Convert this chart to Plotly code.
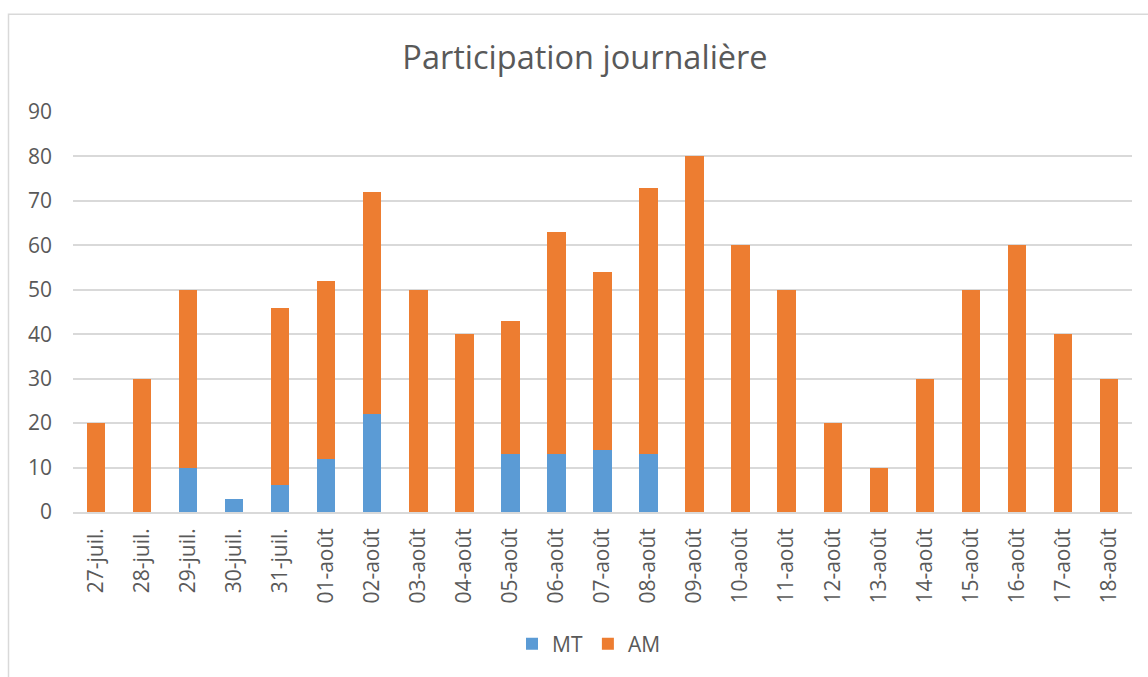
import plotly.graph_objects as go

categories = ["27-juil.", "28-juil.", "29-juil.", "30-juil.", "31-juil.",
              "01-août", "02-août", "03-août", "04-août", "05-août", "06-août",
              "07-août", "08-août", "09-août", "10-août", "11-août", "12-août",
              "13-août", "14-août", "15-août", "16-août", "17-août", "18-août"]
mt_values = [0, 0, 10, 3, 6, 12, 22, 0, 0, 13, 13, 14, 13, 0, 0, 0, 0, 0, 0, 0, 0, 0, 0]
am_values = [20, 30, 40, 0, 40, 40, 50, 50, 40, 30, 50, 40, 60, 80, 60, 50, 20, 10, 30, 50, 60, 40, 30]
y_ticks = [0, 10, 20, 30, 40, 50, 60, 70, 80, 90]

FONT = "'Open Sans', sans-serif"
GREY = "#595959"

fig = go.Figure()
fig.add_trace(go.Bar(x=categories, y=mt_values, name="MT", marker_color="#5B9BD5",
                     marker_line_width=0))
fig.add_trace(go.Bar(x=categories, y=am_values, name="AM", marker_color="#ED7D31",
                     marker_line_width=0))

L, R, T, B = 73, 16, 112, 162
W, H = 1148, 677
pw, ph = W - L - R, H - T - B

def px_x(p):
    return (p - L) / pw

def px_y(p):
    return (H - B - p) / ph

fig.update_layout(
    width=W, height=H,
    barmode="stack",
    bargap=0.6,
    margin=dict(l=L, r=R, t=T, b=B, pad=0),
    paper_bgcolor="white",
    plot_bgcolor="white",
    font=dict(family=FONT, color=GREY, size=21),
    title=dict(text="Participation journalière", x=px_x(585), xref="paper",
               xanchor="center", y=1 - 58 / H, yanchor="middle",
               font=dict(family=FONT, size=32.5, color=GREY)),
    xaxis=dict(tickangle=-90, showgrid=False, showline=True, linecolor="#D9D9D9",
               linewidth=1.5, tickfont=dict(size=21, color=GREY), ticks="",
               ticklabelstandoff=6),
    yaxis=dict(range=[0, 90], tickvals=y_ticks, showgrid=True, gridcolor="#D9D9D9",
               gridwidth=1.5, zeroline=False, showline=False,
               tickfont=dict(size=21, color=GREY), ticklabelstandoff=20),
    legend=dict(orientation="h", x=px_x(589), xanchor="center", y=px_y(648),
                yanchor="middle", font=dict(size=21, color=GREY),
                itemwidth=30, traceorder="normal"),
    shapes=[dict(type="rect", xref="paper", yref="paper",
                 x0=px_x(8.5), x1=px_x(1160), y0=px_y(690), y1=px_y(13.5),
                 line=dict(color="#D9D9D9", width=1.5), fillcolor="rgba(0,0,0,0)",
                 layer="below")],
)

fig.write_html("out.html", config={"displayModeBar": False},
               post_script="document.body.style.margin='0';")
